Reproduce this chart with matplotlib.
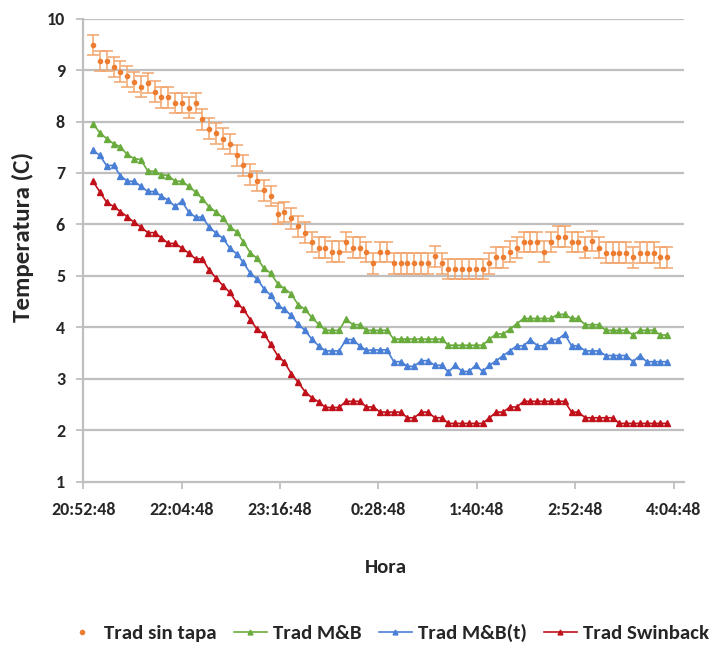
import numpy as np
import matplotlib
matplotlib.use('Agg')
import matplotlib.pyplot as plt
from matplotlib.lines import Line2D

plt.rcParams['font.family'] = ['Carlito', 'DejaVu Sans']

# Datos: lecturas cada 5 min desde las 21:00 (minutos desde 20:52:48)
inicio_min = 7.2
paso_min = 5

trad_sin_tapa = [
    9.49, 9.18, 9.18, 9.06, 8.97, 8.88, 8.77, 8.68, 8.75, 8.58,
    8.47, 8.47, 8.36, 8.36, 8.27, 8.36, 8.04, 7.86, 7.77, 7.67,
    7.56, 7.34, 7.15, 6.97, 6.84, 6.66, 6.55, 6.21, 6.24, 6.12,
    5.96, 5.84, 5.66, 5.55, 5.55, 5.47, 5.47, 5.66, 5.55, 5.55,
    5.46, 5.24, 5.46, 5.46, 5.24, 5.24, 5.24, 5.24, 5.24, 5.24,
    5.38, 5.24, 5.13, 5.13, 5.13, 5.13, 5.13, 5.13, 5.24, 5.36,
    5.36, 5.47, 5.55, 5.66, 5.66, 5.66, 5.47, 5.66, 5.76, 5.76,
    5.66, 5.66, 5.55, 5.68, 5.55, 5.45, 5.45, 5.45, 5.45, 5.36,
    5.45, 5.45, 5.45, 5.36, 5.36]
err_sin_tapa = 0.2

trad_mb = [
    7.96, 7.78, 7.67, 7.57, 7.51, 7.36, 7.28, 7.26, 7.04, 7.03,
    6.97, 6.95, 6.84, 6.84, 6.74, 6.63, 6.50, 6.34, 6.24, 6.13,
    5.95, 5.86, 5.66, 5.45, 5.34, 5.15, 5.05, 4.85, 4.75, 4.65,
    4.44, 4.35, 4.19, 4.06, 3.94, 3.94, 3.94, 4.16, 4.05, 4.05,
    3.94, 3.94, 3.94, 3.94, 3.77, 3.77, 3.77, 3.77, 3.77, 3.77,
    3.77, 3.77, 3.65, 3.65, 3.65, 3.65, 3.65, 3.65, 3.77, 3.87,
    3.87, 3.96, 4.07, 4.17, 4.17, 4.17, 4.17, 4.17, 4.25, 4.25,
    4.17, 4.17, 4.05, 4.05, 4.05, 3.94, 3.94, 3.94, 3.94, 3.85,
    3.94, 3.94, 3.94, 3.85, 3.85]

trad_mb_t = [
    7.44, 7.34, 7.14, 7.15, 6.95, 6.84, 6.84, 6.74, 6.64, 6.64,
    6.55, 6.47, 6.35, 6.45, 6.24, 6.14, 6.14, 5.95, 5.83, 5.73,
    5.54, 5.43, 5.26, 5.05, 4.94, 4.75, 4.62, 4.43, 4.35, 4.23,
    4.06, 3.94, 3.77, 3.64, 3.54, 3.54, 3.54, 3.76, 3.76, 3.64,
    3.55, 3.56, 3.56, 3.56, 3.33, 3.33, 3.24, 3.24, 3.35, 3.35,
    3.26, 3.26, 3.13, 3.26, 3.14, 3.14, 3.26, 3.14, 3.26, 3.35,
    3.45, 3.54, 3.64, 3.64, 3.76, 3.64, 3.64, 3.76, 3.76, 3.87,
    3.64, 3.64, 3.54, 3.54, 3.54, 3.45, 3.45, 3.45, 3.45, 3.33,
    3.45, 3.33, 3.33, 3.33, 3.33]

trad_swinback = [
    6.84, 6.63, 6.43, 6.35, 6.25, 6.15, 6.04, 5.95, 5.84, 5.84,
    5.74, 5.63, 5.63, 5.54, 5.44, 5.33, 5.33, 5.11, 4.96, 4.81,
    4.68, 4.48, 4.35, 4.15, 3.96, 3.87, 3.67, 3.45, 3.32, 3.10,
    2.93, 2.75, 2.63, 2.55, 2.44, 2.44, 2.44, 2.56, 2.56, 2.56,
    2.45, 2.45, 2.35, 2.35, 2.35, 2.35, 2.24, 2.24, 2.35, 2.35,
    2.24, 2.24, 2.13, 2.13, 2.13, 2.13, 2.13, 2.13, 2.24, 2.35,
    2.35, 2.45, 2.45, 2.56, 2.56, 2.56, 2.56, 2.56, 2.56, 2.56,
    2.35, 2.35, 2.24, 2.24, 2.24, 2.24, 2.24, 2.13, 2.13, 2.13,
    2.13, 2.13, 2.13, 2.13, 2.13]

etiquetas_x = ['20:52:48', '22:04:48', '23:16:48', '0:28:48', '1:40:48', '2:52:48', '4:04:48']
ticks_x = [0, 72, 144, 216, 288, 360, 432]

x = inicio_min + paso_min * np.arange(len(trad_sin_tapa))

c_nar = '#ED7D31'
c_ver = '#6AAB3E'
c_azu = '#4A7FD6'
c_roj = '#C0101A'
c_txt = '#262626'

fig = plt.figure(figsize=(7.17, 6.52), dpi=100)
ax = fig.add_axes([0.116, 0.2615, 0.838, 0.7098])

for yv in range(2, 11):
    ax.axhline(yv, color='#BFBFBF', lw=1.6, zorder=0)

ax.errorbar(x, trad_sin_tapa, yerr=err_sin_tapa, fmt='o', color=c_nar, ms=3,
            ecolor='#F3A46C', elinewidth=1.1, capsize=4, capthick=1.1, zorder=3)
ax.plot(x, trad_mb, color=c_ver, lw=1.2, marker='^', ms=4.5, zorder=4)
ax.plot(x, trad_mb_t, color=c_azu, lw=1.2, marker='^', ms=4.5, zorder=4)
ax.plot(x, trad_swinback, color=c_roj, lw=1.2, marker='^', ms=4.5, zorder=4)

ax.set_xlim(0, 439.5)
ax.set_ylim(1, 10)
ax.set_yticks(range(1, 11))
ax.set_xticks(ticks_x)
ax.set_xticklabels(etiquetas_x)
for s in ['top', 'right']:
    ax.spines[s].set_visible(False)
for s in ['left', 'bottom']:
    ax.spines[s].set_color('#BFBFBF')
    ax.spines[s].set_linewidth(1.6)
ax.tick_params(axis='both', colors='#BFBFBF', labelcolor=c_txt, length=5, width=1.3,
               labelsize=13)
ax.tick_params(axis='x', pad=10)
ax.tick_params(axis='y', pad=8)
for lab in ax.get_xticklabels() + ax.get_yticklabels():
    lab.set_fontweight('bold')

fig.text(0.032, 0.637, 'Temperatura (C)', rotation=90, ha='center', va='center',
         fontsize=18, fontweight='bold', color=c_txt)
fig.text(0.538, 0.129, 'Hora', ha='center', va='center', fontsize=15,
         fontweight='bold', color=c_txt)

handles = [
    Line2D([], [], color=c_nar, marker='o', ms=3, ls='none'),
    Line2D([], [], color=c_ver, marker='^', ms=3.5, lw=1.2),
    Line2D([], [], color=c_azu, marker='^', ms=3.5, lw=1.2),
    Line2D([], [], color=c_roj, marker='^', ms=3.5, lw=1.2),
]
labels = ['Trad sin tapa', 'Trad M&B', 'Trad M&B(t)', 'Trad Swinback']
leg = fig.legend(handles, labels, loc='center', bbox_to_anchor=(0.54, 0.029), ncol=4,
                 frameon=False, prop={'size': 15, 'weight': 'bold'}, handlelength=1.6,
                 columnspacing=0.8, handletextpad=0.3)
for t in leg.get_texts():
    t.set_color(c_txt)

fig.savefig('out.png', dpi=100)
